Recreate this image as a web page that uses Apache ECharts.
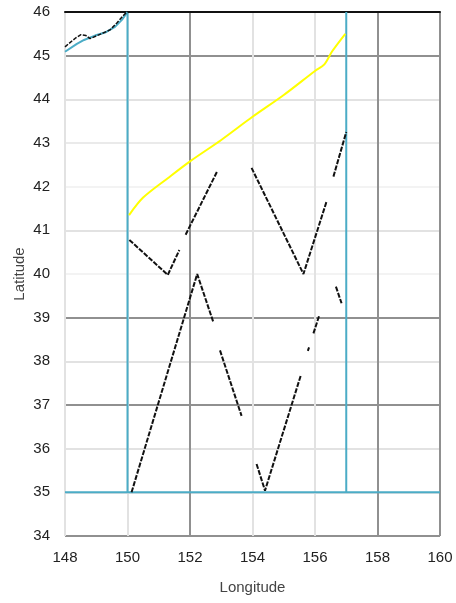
<!DOCTYPE html>
<html>
<head>
<meta charset="utf-8">
<script src="https://cdn.jsdelivr.net/npm/echarts@6/dist/echarts.min.js"></script>
<style>
  html, body { margin: 0; padding: 0; background: #ffffff; }
  #chart { width: 456px; height: 603px; }
</style>
</head>
<body>
<div id="chart"></div>
<script>
// Axis ranges
const lonTicks = [148, 150, 152, 154, 156, 158, 160];
const latTicks = [34, 35, 36, 37, 38, 39, 40, 41, 42, 43, 44, 45, 46];

// Study-area box (null breaks the polyline between pieces)
const boxLon = [150, 150, null, 148, 160, null, 157, 157];
const boxLat = [35, 46, null, 35, 35, null, 35, 46];

// Coastline in the north-west corner
const coastLon = [148.0, 148.38, 148.61, 148.96, 149.28, 149.6, 149.82, 150.0];
const coastLat = [45.09, 45.27, 45.36, 45.46, 45.53, 45.66, 45.82, 46.0];
const coastTraceLon = [148.0, 148.16, 148.35, 148.51, 148.67, 148.8, 149.0, 149.44, 149.66, 149.92, 150.05];
const coastTraceLat = [45.2, 45.3, 45.41, 45.48, 45.46, 45.39, 45.45, 45.59, 45.75, 45.96, 46.0];

// Front (yellow)
const frontLon = [150.05, 150.5, 151.3, 152.0, 153.0, 154.0, 155.0, 156.0, 156.3, 156.55, 156.97];
const frontLat = [41.35, 41.75, 42.2, 42.58, 43.07, 43.6, 44.1, 44.65, 44.8, 45.1, 45.5];

// Northern track (null = no data)
const trackNLon = [150.06, 151.29, 151.66, null, 151.86, 152.87, null, 153.97, 155.63, 156.37, null, 156.59, 157.0];
const trackNLat = [40.78, 39.98, 40.55, null, 40.9, 42.35, null, 42.43, 40.0, 41.66, null, 42.23, 43.25];

// Southern track (null = no data)
const trackSLon = [150.13, 152.23, 152.75, null, 152.96, 153.65, null, 154.13, 154.4, 155.55, null, 155.77, 155.81, null, 155.95, 156.14, null, 156.67, 156.85];
const trackSLat = [35.0, 40.0, 38.89, null, 38.25, 36.75, null, 35.65, 35.04, 37.69, null, 38.24, 38.32, null, 38.64, 39.06, null, 39.71, 39.33];

function pairs(xs, ys) {
  return xs.map((x, i) => (x == null || ys[i] == null) ? '-' : [x, ys[i]]);
}

const dark = '#909090', light = '#e2e2e2', faint = '#f3f3f3';
const labelFont = { fontFamily: 'Liberation Sans, Arial, sans-serif', fontSize: 15, color: '#222' };

const chart = echarts.init(document.getElementById('chart'), null, { renderer: 'canvas' });
chart.setOption({
  animation: false,
  backgroundColor: '#ffffff',
  grid: { left: 65, right: 16, top: 12, bottom: 67, containLabel: false },
  xAxis: [{
    type: 'value',
    min: lonTicks[0], max: lonTicks[lonTicks.length - 1], interval: 2,
    name: 'Longitude', nameLocation: 'middle', nameGap: 44,
    nameTextStyle: { fontFamily: 'Liberation Sans, Arial, sans-serif', fontSize: 15, color: '#444' },
    axisLine: { show: false }, axisTick: { show: false },
    axisLabel: Object.assign({ margin: 14 }, labelFont),
    splitLine: { show: true, lineStyle: { width: 2, color: [light, light, dark, light, light, dark, dark] } }
  }, {
    type: 'value', position: 'top',
    min: lonTicks[0], max: lonTicks[lonTicks.length - 1], interval: 2,
    axisLine: { show: true, onZero: false, lineStyle: { color: '#111', width: 2 } },
    axisTick: { show: false }, axisLabel: { show: false }, splitLine: { show: false }
  }],
  yAxis: {
    type: 'value',
    min: latTicks[0], max: latTicks[latTicks.length - 1], interval: 1,
    name: 'Latitude', nameLocation: 'middle', nameGap: 38, nameRotate: 90,
    nameMoveOverlap: false,
    nameTextStyle: { fontFamily: 'Liberation Sans, Arial, sans-serif', fontSize: 15, color: '#444' },
    axisLine: { show: false }, axisTick: { show: false },
    axisLabel: Object.assign({ margin: 15 }, labelFont),
    splitLine: { show: true, lineStyle: { width: 2, color: [dark, light, light, dark, light, dark, faint, light, faint, '#eaeaea', light, dark, '#111'] } }
  },
  series: [
    {
      type: 'line', name: 'box', data: pairs(boxLon, boxLat), showSymbol: false, connectNulls: false,
      lineStyle: { color: '#4bacc6', width: 2 }, z: 3
    },
    {
      type: 'line', name: 'coast', data: pairs(coastLon, coastLat), showSymbol: false,
      lineStyle: { color: '#4bacc6', width: 2 }, z: 3
    },
    {
      type: 'line', name: 'coast trace', data: pairs(coastTraceLon, coastTraceLat), showSymbol: false,
      lineStyle: { color: '#111', width: 1.5, type: [4, 1.5] }, z: 4
    },
    {
      type: 'line', name: 'front', data: pairs(frontLon, frontLat), showSymbol: false, smooth: 0.3,
      lineStyle: { color: '#ffff00', width: 2 }, z: 4
    },
    {
      type: 'line', name: 'track N', data: pairs(trackNLon, trackNLat), showSymbol: false, connectNulls: false,
      lineStyle: { color: '#111', width: 2, type: [5, 1.5] }, z: 5
    },
    {
      type: 'line', name: 'track S', data: pairs(trackSLon, trackSLat), showSymbol: false, connectNulls: false,
      lineStyle: { color: '#111', width: 2, type: [5, 1.5] }, z: 5
    }
  ]
});
</script>
</body>
</html>
